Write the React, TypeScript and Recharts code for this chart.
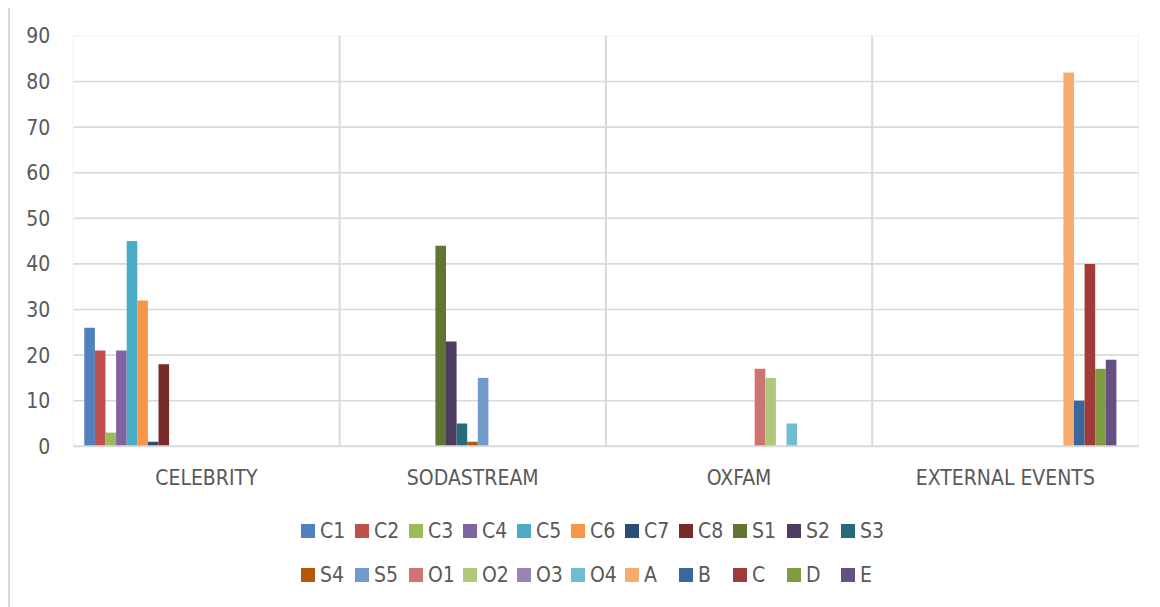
import React from 'react';
import { BarChart, Bar, XAxis, YAxis, CartesianGrid, Legend } from 'recharts';

const categories = ['CELEBRITY', 'SODASTREAM', 'OXFAM', 'EXTERNAL EVENTS'];

const seriesNames = ['C1', 'C2', 'C3', 'C4', 'C5', 'C6', 'C7', 'C8', 'S1', 'S2', 'S3', 'S4', 'S5', 'O1', 'O2', 'O3', 'O4', 'A', 'B', 'C', 'D', 'E'];

const seriesColors = ['#4F81BD', '#C0504D', '#9BBB59', '#8064A2', '#4BACC6', '#F79646', '#2C4D75', '#772C2A', '#5F7530', '#4D3B62', '#276A7C', '#B65708', '#729ACA', '#CD7371', '#AFC97A', '#9983B5', '#6FBDD1', '#F9AB6B', '#3A679C', '#9F3B38', '#7E9D40', '#664F83'];

// values per series, in the order of categories (null = no bar)
const celebrityValues: Record<string, number> = { C1: 26, C2: 21, C3: 3, C4: 21, C5: 45, C6: 32, C7: 1, C8: 18 };
const sodastreamValues: Record<string, number> = { S1: 44, S2: 23, S3: 5, S4: 1, S5: 15 };
const oxfamValues: Record<string, number> = { O1: 17, O2: 15, O4: 5 };
const externalValues: Record<string, number> = { A: 82, B: 10, C: 40, D: 17, E: 19 };

const yTicks = [0, 10, 20, 30, 40, 50, 60, 70, 80, 90];

const perCategory = [celebrityValues, sodastreamValues, oxfamValues, externalValues];

const data = categories.map((cat, i) => {
  const row: Record<string, any> = { name: cat };
  seriesNames.forEach((s) => {
    row[s] = perCategory[i][s] ?? null;
  });
  row.blank = null;
  return row;
});

const FONT = "'Liberation Sans Narrow', 'DejaVu Sans Condensed', 'Liberation Sans', sans-serif";
const TEXT = '#595959';

const renderLegend = () => (
  <div style={{ display: 'flex', flexWrap: 'wrap', width: 594, fontFamily: FONT, fontSize: 21, color: TEXT }}>
    {seriesNames.map((s, i) => (
      <div key={s} style={{ width: 54, height: 43.4, display: 'flex', alignItems: 'center' }}>
        <span style={{ display: 'inline-block', width: 14, height: 14, background: seriesColors[i], marginRight: 5 }} />
        <span style={{ lineHeight: '14px' }}>{s}</span>
      </div>
    ))}
  </div>
);

const innerVertical = (props: any) => {
  const o = props.offset;
  return [1, 2, 3].map((i) => o.left + (o.width * i) / 4);
};
const edgeVertical = (props: any) => {
  const o = props.offset;
  return [o.left, o.left + o.width];
};

export default function App() {
  return (
    <div style={{ marginTop: -3, width: 1160, height: 610, border: '2px solid #d9d9d9', position: 'relative', boxSizing: 'content-box' }}>
      <BarChart
        width={1150}
        height={600}
        data={data}
        margin={{ top: 28.9, right: 21.5, left: 13.3, bottom: 120.7 }}
        barSize={10.6}
        barGap={0}
      >
        <CartesianGrid horizontal={false} vertical verticalCoordinatesGenerator={edgeVertical} stroke="#f0f0f0" strokeWidth={1} />
        <CartesianGrid horizontal vertical={false} horizontalValues={[90]} stroke="#f0f0f0" strokeWidth={1} />
        <CartesianGrid horizontal vertical={false} horizontalValues={[10, 20, 30, 40, 50, 60, 70, 80]} stroke="#d9d9d9" strokeWidth={1.6} />
        <CartesianGrid horizontal={false} vertical verticalCoordinatesGenerator={innerVertical} stroke="#d9d9d9" strokeWidth={2} />
        <XAxis
          dataKey="name"
          height={40}
          axisLine={{ stroke: '#d9d9d9', strokeWidth: 2 }}
          tickLine={false}
          tickSize={0}
          tickMargin={24}
          tick={{ fill: TEXT, fontSize: 21, fontFamily: FONT }}
        />
        <YAxis
          width={50}
          domain={[0, 90]}
          ticks={yTicks}
          axisLine={false}
          tickLine={false}
          tickSize={0}
          tickMargin={23}
          tick={{ fill: TEXT, fontSize: 21, fontFamily: FONT }}
        />
        <Legend
          layout="horizontal"
          align="center"
          verticalAlign="middle"
          content={renderLegend}
          wrapperStyle={{ left: 291, top: 502.7, width: 594 }}
        />
        {seriesNames.map((s, i) => (
          <Bar key={s} dataKey={s} fill={seriesColors[i]} isAnimationActive={false} />
        ))}
        <Bar dataKey="blank" fill="none" legendType="none" isAnimationActive={false} />
      </BarChart>
    </div>
  );
}
